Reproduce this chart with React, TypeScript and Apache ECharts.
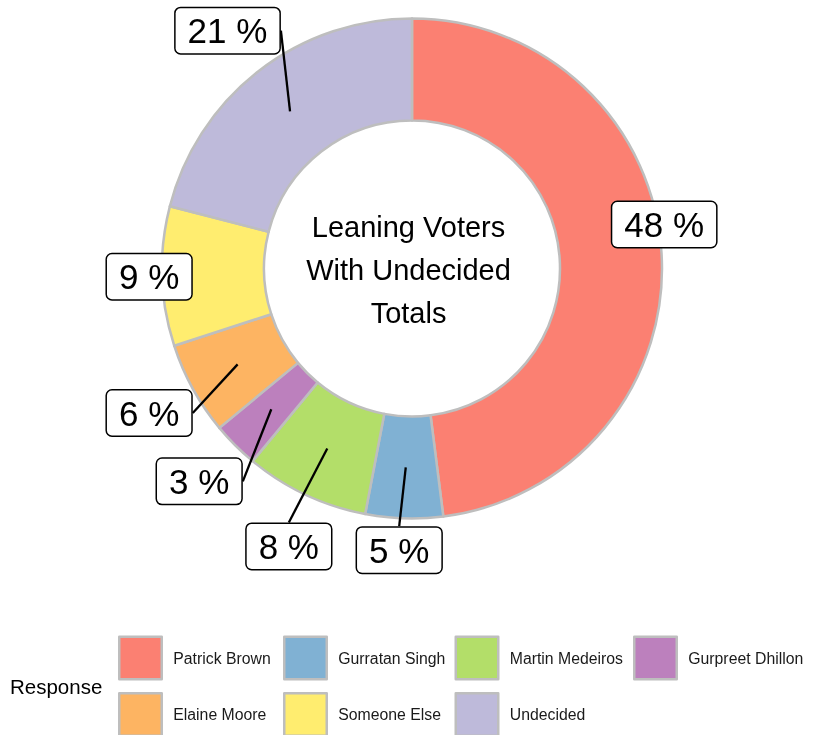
import React, { useEffect, useRef } from "react";
import * as echarts from "echarts";

// ---- data ----
const categories = [
  "Patrick Brown",
  "Gurratan Singh",
  "Martin Medeiros",
  "Gurpreet Dhillon",
  "Elaine Moore",
  "Someone Else",
  "Undecided",
];
const shares = [48, 5, 8, 3, 6, 9, 21];
const colors = ["#FB8072", "#80B1D3", "#B3DE69", "#BC80BD", "#FDB462", "#FFED6F", "#BEBADA"];
const centerTitle = ["Leaning Voters", "With Undecided", "Totals"];
const legendTitle = "Response";
const legendRows = [
  ["Patrick Brown", "Gurratan Singh", "Martin Medeiros", "Gurpreet Dhillon"],
  ["Elaine Moore", "Someone Else", "Undecided"],
];

// ---- layout ----
const FONT = "'Liberation Sans', Arial, Helvetica, sans-serif";
const CX = 412;
const CY = 268.5;
const R0 = 148;
const R = 250;
// repelled label placement: radial distance of label centre and angular nudge (deg)
const labelRadius = [256, 282, 304, 301, 300, 263, 301];
const labelNudge = [-6.3, 0.8, -1.3, 0, 0, 0, 0];
const legendLefts = [118, 283, 454.5, 633];
const legendTop = 635.5;
const legendRowStep = 56.5;

const total = shares.reduce((a, b) => a + b, 0);
const midAngles: number[] = [];
{
  let cum = 0;
  shares.forEach((v) => {
    midAngles.push(((cum + v / 2) / total) * 360);
    cum += v;
  });
}

function labelLayout(params: any) {
  const i = params.dataIndex;
  const mid = (midAngles[i] * Math.PI) / 180;
  const th = ((midAngles[i] + labelNudge[i]) * Math.PI) / 180;
  const lx = CX + labelRadius[i] * Math.sin(th);
  const ly = CY - labelRadius[i] * Math.cos(th);
  const w = params.labelRect.width;
  const h = params.labelRect.height;
  const rs = (R + R0) / 2;
  const sx = CX + rs * Math.sin(mid);
  const sy = CY - rs * Math.cos(mid);
  const nx = Math.max(lx - w / 2, Math.min(lx + w / 2, sx));
  const ny = Math.max(ly - h / 2, Math.min(ly + h / 2, sy));
  const nearDist = Math.hypot(nx - sx, ny - sy);
  const cands = [
    [lx, ly - h / 2],
    [lx + w / 2, ly],
    [lx, ly + h / 2],
    [lx - w / 2, ly],
  ];
  let best = cands[0];
  let bd = Infinity;
  cands.forEach((c) => {
    const d = Math.hypot(c[0] - sx, c[1] - sy);
    if (d < bd) {
      bd = d;
      best = c;
    }
  });
  const pts = nearDist < 30 ? [[sx, sy], [sx, sy]] : [[sx, sy], best];
  return {
    x: lx,
    y: ly,
    align: "center",
    verticalAlign: "middle",
    labelLinePoints: pts,
  };
}

export default function App() {
  const ref = useRef<HTMLDivElement>(null);
  useEffect(() => {
    const chart = echarts.init(ref.current!, null, { renderer: "svg" });
    const legends: any[] = [];
    legendRows.forEach((row, r) =>
      row.forEach((name, c) =>
        legends.push({
          data: [name],
          orient: "horizontal",
          left: legendLefts[c],
          top: legendTop + r * legendRowStep,
          padding: 0,
          itemWidth: 42.5,
          itemHeight: 42.5,
          icon: "rect",
          selectedMode: false,
          itemStyle: { borderColor: "#bebebe", borderWidth: 2.5 },
          textStyle: {
            fontSize: 15.8,
            color: "#1a1a1a",
            fontFamily: FONT,
            padding: [0, 0, 0, 6.5],
          },
        })
      )
    );
    const data = categories.map((name, i) => ({ name, value: shares[i] }));
    const option: any = {
      animation: false,
      color: colors,
      legend: legends,
      graphic: [
        {
          type: "text",
          x: 408.5,
          y: 270,
          silent: true,
          style: {
            text: centerTitle.join("\n"),
            fontSize: 29,
            lineHeight: 43,
            fontFamily: FONT,
            fill: "#000",
            align: "center",
            verticalAlign: "middle",
          },
        },
        {
          type: "text",
          x: 10,
          y: 686,
          silent: true,
          style: {
            text: legendTitle,
            fontSize: 20.5,
            fontFamily: FONT,
            fill: "#000",
            align: "left",
            verticalAlign: "middle",
          },
        },
      ],
      series: [
        {
          type: "pie",
          z: 2,
          center: [CX, CY],
          radius: [R0, R],
          startAngle: 90,
          clockwise: true,
          emphasis: { disabled: true },
          itemStyle: { borderColor: "#bebebe", borderWidth: 2.5 },
          data,
          label: { show: false },
          labelLine: { show: false },
        },
        {
          // overlay carrying the repelled labels so that leader lines sit above the ring
          type: "pie",
          z: 10,
          center: [CX, CY],
          radius: [R0, R],
          startAngle: 90,
          clockwise: true,
          silent: true,
          avoidLabelOverlap: false,
          minShowLabelAngle: 0,
          emphasis: { disabled: true },
          itemStyle: { color: "rgba(0,0,0,0)", borderWidth: 0 },
          data,
          label: {
            show: true,
            position: "outside",
            formatter: "{c} %",
            fontSize: 35,
            fontFamily: FONT,
            color: "#000",
            backgroundColor: "#fff",
            borderColor: "#000",
            borderWidth: 1.5,
            borderRadius: 5,
            padding: [5, 12],
          },
          labelLine: {
            show: true,
            length: 20,
            length2: 0,
            lineStyle: { color: "#000", width: 2.3 },
          },
          labelLayout: labelLayout,
        },
      ],
    };
    chart.setOption(option);
    return () => chart.dispose();
  }, []);
  return (
    <div
      ref={ref}
      style={{ position: "fixed", left: 0, top: 0, width: 817, height: 735 }}
    />
  );
}
